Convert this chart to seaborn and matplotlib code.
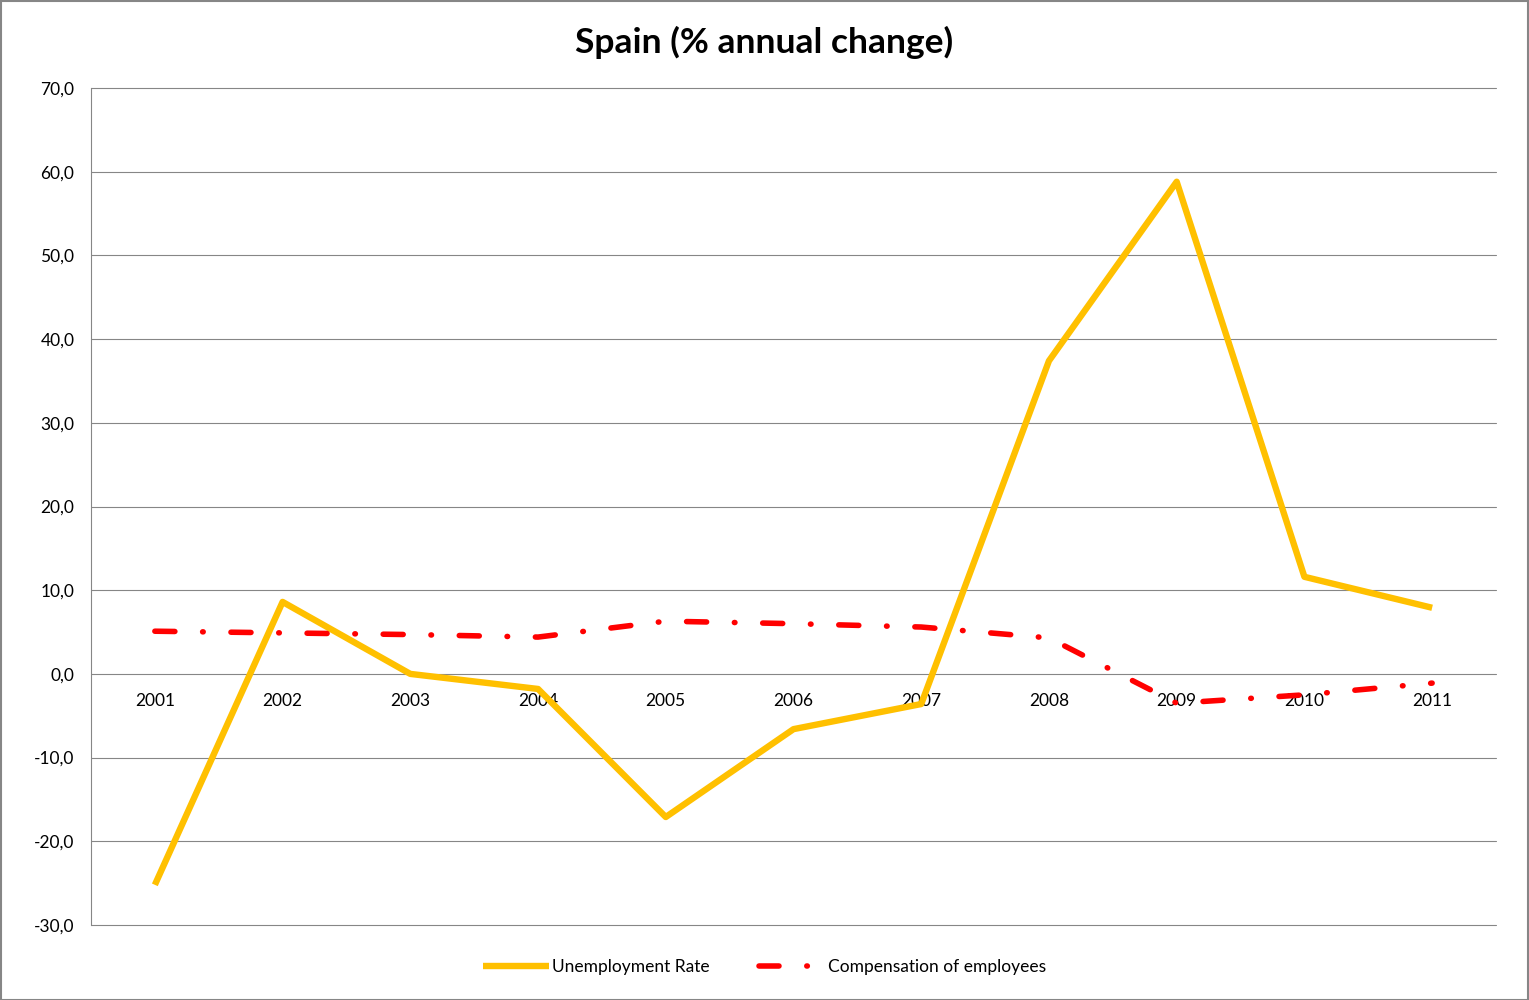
import pandas as pd
import matplotlib.pyplot as plt
import matplotlib.patches as patches
from matplotlib.ticker import FuncFormatter
import seaborn as sns

# data
years = [2001, 2002, 2003, 2004, 2005, 2006, 2007, 2008, 2009, 2010, 2011]
unemployment = [-25.2, 8.6, 0.0, -1.8, -17.1, -6.6, -3.6, 37.4, 58.8, 11.6, 7.9]
compensation = [5.1, 4.9, 4.7, 4.4, 6.3, 6.0, 5.6, 4.3, -3.5, -2.5, -1.1]
y_ticks = [-30, -20, -10, 0, 10, 20, 30, 40, 50, 60, 70]

df = pd.DataFrame({"year": years, "unemployment": unemployment, "compensation": compensation})

sns.set_style("white")
plt.rcParams["font.family"] = ["Lato", "DejaVu Sans"]
plt.rcParams["text.color"] = "black"
plt.rcParams["xtick.color"] = "black"
plt.rcParams["ytick.color"] = "black"

fig = plt.figure(figsize=(15.29, 10), dpi=100)
ax = fig.add_axes([91 / 1529, 75 / 1000, 1405 / 1529, 837 / 1000])

# horizontal gridlines
for t in y_ticks:
    ax.axhline(t, color="#868686", linewidth=0.8, zorder=0, clip_on=False)

sns.lineplot(data=df, x="year", y="unemployment", ax=ax, color="#FFC000",
             linewidth=4.6, label="Unemployment Rate", solid_capstyle="butt")
sns.lineplot(data=df, x="year", y="compensation", ax=ax, color="#FF0000",
             linewidth=4.0, label="Compensation of employees",
             linestyle=(0, (3.6, 5.0, 0.1, 5.0)), dash_capstyle="round")

ax.set_xlim(2000.5, 2011.5)
ax.set_ylim(-30, 70)
ax.set_yticks(y_ticks)
ax.yaxis.set_major_formatter(FuncFormatter(lambda v, p: f"{v:.1f}".replace(".", ",")))
ax.set_xticks(years)
ax.set_xticklabels([str(y) for y in years])

ax.spines["bottom"].set_position(("data", 0))
ax.spines["bottom"].set_visible(False)
ax.spines["top"].set_visible(False)
ax.spines["right"].set_visible(False)
ax.spines["left"].set_color("#868686")
ax.spines["left"].set_linewidth(0.8)
ax.tick_params(axis="x", length=0, pad=14, labelsize=12.5)
ax.tick_params(axis="y", length=0, pad=12, labelsize=12.5)
ax.set_xlabel("")
ax.set_ylabel("")

ax.get_legend().remove()
handles, labels = ax.get_legend_handles_labels()
fig.legend(handles, labels, loc="center", bbox_to_anchor=(0.5, 0.033), ncol=2,
           frameon=False, fontsize=12.5, handlelength=3.8, columnspacing=2.8, handletextpad=0.2)

fig.text(0.5, 0.958, "Spain (% annual change)", ha="center", va="center",
         fontsize=25.5, fontweight="bold", color="black")

# outer border
fig.patches.append(patches.Rectangle((0.0005, 0.0005), 0.999, 0.999, transform=fig.transFigure,
                                     fill=False, edgecolor="#868686", linewidth=1.5))

plt.savefig("out.png", dpi=100)
